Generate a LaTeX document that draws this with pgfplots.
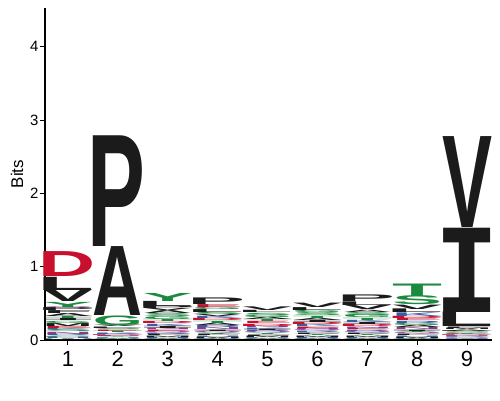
\documentclass[border=0pt]{standalone}
\usepackage{fontspec}
\setmainfont{Liberation Sans}
\newfontfamily\serifI{DejaVu Sans Mono}
\usepackage{graphicx}
\usepackage{pgfplots}
\usepackage{pgfplotstable}
\pgfplotsset{compat=1.18}

\definecolor{lk}{HTML}{1C1B1C}
\definecolor{lg}{HTML}{1B8A3E}
\definecolor{lr}{HTML}{C8102E}
\definecolor{lb}{HTML}{3B5BA5}
\definecolor{lp}{HTML}{8A3A8E}

% chemistry colouring of the residues
\def\aaA{lk}\def\aaV{lk}\def\aaL{lk}\def\aaI{lk}\def\aaP{lk}
\def\aaW{lk}\def\aaF{lk}\def\aaM{lk}
\def\aaG{lg}\def\aaS{lg}\def\aaT{lg}\def\aaY{lg}\def\aaC{lg}
\def\aaN{lp}\def\aaQ{lp}
\def\aaK{lb}\def\aaR{lb}\def\aaH{lb}
\def\aaD{lr}\def\aaE{lr}
% the logo's I has bars top and bottom; trim side bearings of the big ones
\def\glyphI{{\serifI\bfseries\kern-0.07em I\kern-0.07em}}
\def\glyphP{{\bfseries\kern-0.06em P\kern-0.03em}}
\def\glyphD{{\bfseries\kern-0.06em D\kern-0.03em}}
\def\glyphL{{\bfseries\kern-0.06em L\kern-0.01em}}
\newcommand\residue[1]{%
  \ifcsname glyph#1\endcsname\csname glyph#1\endcsname\else{\bfseries#1}\fi}

% one table per position, letters from bottom to top, h = height in bits
\pgfplotstableread{
l h
W 0.02
H 0.02
C 0.02
R 0.02
N 0.03
S 0.03
K 0.02
E 0.03
M 0.04
G 0.03
I 0.03
T 0.03
A 0.04
F 0.04
P 0.04
Q 0.01
Y 0.07
V 0.16
L 0.18
D 0.34
}\posA
\pgfplotstableread{
l h
W 0.01
C 0.01
H 0.01
Y 0.01
F 0.01
N 0.01
D 0.01
R 0.01
K 0.02
T 0.02
E 0.02
S 0.02
L 0.02
V 0.02
G 0.13
A 0.94
P 1.51
}\posB
\pgfplotstableread{
l h
W 0.01
C 0.01
H 0.02
M 0.02
F 0.02
R 0.02
Q 0.02
E 0.02
N 0.02
I 0.03
K 0.03
D 0.03
T 0.03
G 0.04
S 0.04
A 0.04
V 0.03
P 0.03
L 0.07
Y 0.11
}\posC
\pgfplotstableread{
l h
W 0.01
C 0.01
M 0.02
H 0.02
F 0.02
Y 0.02
Q 0.02
I 0.02
N 0.03
R 0.03
A 0.03
T 0.03
D 0.03
K 0.03
V 0.03
S 0.03
L 0.04
G 0.03
E 0.04
P 0.09
}\posD
\pgfplotstableread{
l h
W 0.01
C 0.01
H 0.01
M 0.02
F 0.02
Y 0.02
Q 0.02
R 0.02
I 0.02
K 0.02
N 0.02
D 0.03
E 0.03
T 0.03
A 0.03
G 0.03
S 0.03
L 0.03
V 0.05
}\posE
\pgfplotstableread{
l h
W 0.01
C 0.01
H 0.02
M 0.02
Y 0.02
F 0.02
R 0.02
Q 0.02
N 0.02
E 0.02
K 0.03
D 0.03
I 0.03
A 0.03
T 0.03
S 0.04
G 0.03
L 0.04
V 0.06
}\posF
\pgfplotstableread{
l h
W 0.01
C 0.01
H 0.02
M 0.02
Y 0.02
F 0.02
Q 0.02
R 0.02
E 0.02
N 0.02
D 0.03
I 0.03
K 0.03
T 0.03
G 0.04
S 0.04
A 0.03
V 0.06
L 0.05
P 0.09
}\posG
\pgfplotstableread{
l h
W 0.01
C 0.01
M 0.02
H 0.02
F 0.02
Q 0.02
Y 0.02
I 0.02
N 0.03
A 0.03
G 0.03
R 0.03
E 0.03
D 0.03
K 0.05
L 0.05
V 0.06
S 0.12
T 0.17
}\posH
\pgfplotstableread{
l h
H 0.01
Y 0.01
Q 0.01
R 0.01
N 0.01
K 0.01
D 0.01
E 0.01
T 0.01
G 0.01
S 0.01
P 0.01
A 0.02
M 0.02
F 0.02
L 0.20
I 1.15
V 1.24
}\posI

% running top of each stack
\newcommand\stacktops[1]{%
  \pgfplotstablecreatecol[create col/expr accum={\pgfmathaccuma+\thisrow{h}}{0}]{top}{#1}}
\stacktops\posA \stacktops\posB \stacktops\posC
\stacktops\posD \stacktops\posE \stacktops\posF
\stacktops\posG \stacktops\posH \stacktops\posI

\pgfplotsset{
  logo/.style={
    only marks, mark=none,
    point meta=explicit symbolic,
    visualization depends on={\thisrow{h}*73.29 \as \hbp},
    nodes near coords={\resizebox{50bp}{\hbp bp}{%
      \textcolor{\csname aa\pgfplotspointmeta\endcsname}{\residue{\pgfplotspointmeta}}}},
    every node near coord/.style={anchor=south, inner sep=0pt, outer sep=0pt},
  },
}

\begin{document}
\begin{tikzpicture}
\begin{axis}[
  scale only axis,
  width=447bp, height=332bp,
  xmin=0.54, xmax=9.5,
  ymin=0, ymax=4.53,
  clip=false,
  axis x line*=bottom, axis y line*=left,
  axis line style={-, line width=1.1bp, black},
  xtick={1,...,9}, ytick={0,...,4},
  tick align=outside,
  major tick length=5bp,
  tick style={black, line width=1bp},
  /pgf/number format/assume math mode=true,
  yticklabel style={font=\fontsize{15}{15}\selectfont, xshift=2bp},
  xticklabel style={font=\fontsize{22}{22}\selectfont, yshift=-3bp},
  ylabel={Bits},
  ylabel style={font=\fontsize{17}{17}\selectfont},
]
  \addplot[logo] table[x expr=1, y expr=\thisrow{top}-\thisrow{h}, meta=l] {\posA};
  \addplot[logo] table[x expr=2, y expr=\thisrow{top}-\thisrow{h}, meta=l] {\posB};
  \addplot[logo] table[x expr=3, y expr=\thisrow{top}-\thisrow{h}, meta=l] {\posC};
  \addplot[logo] table[x expr=4, y expr=\thisrow{top}-\thisrow{h}, meta=l] {\posD};
  \addplot[logo] table[x expr=5, y expr=\thisrow{top}-\thisrow{h}, meta=l] {\posE};
  \addplot[logo] table[x expr=6, y expr=\thisrow{top}-\thisrow{h}, meta=l] {\posF};
  \addplot[logo] table[x expr=7, y expr=\thisrow{top}-\thisrow{h}, meta=l] {\posG};
  \addplot[logo] table[x expr=8, y expr=\thisrow{top}-\thisrow{h}, meta=l] {\posH};
  \addplot[logo] table[x expr=9, y expr=\thisrow{top}-\thisrow{h}, meta=l] {\posI};
  % page frame
  \path ([shift={(-45bp,-60bp)}]rel axis cs:0,0) rectangle ([shift={(8bp,8bp)}]rel axis cs:1,1);
\end{axis}
\end{tikzpicture}
\end{document}
